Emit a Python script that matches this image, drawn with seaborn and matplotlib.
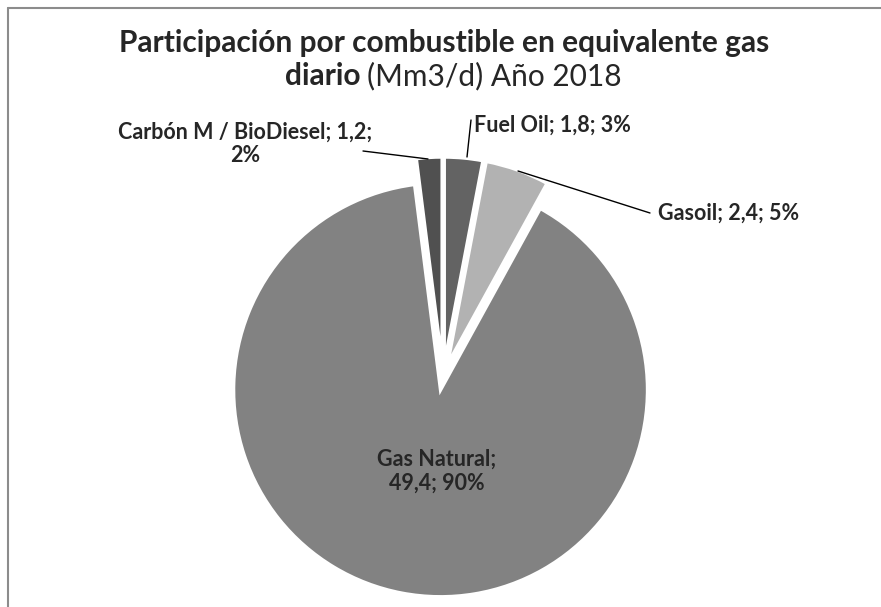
import matplotlib
matplotlib.use("Agg")
import matplotlib.pyplot as plt
import seaborn as sns
from matplotlib.lines import Line2D

# Datos (Mm3/d, año 2018) - orden horario desde las 12
combustibles = ['Fuel Oil', 'Gasoil', 'Gas Natural', 'Carbón M / BioDiesel']
valores = ['1,8', '2,4', '49,4', '1,2']
porcentajes = [3, 5, 90, 2]
colores = ['#636363', '#b2b2b2', '#828282', '#505050']
separacion = [0.063, 0.063, 0.063, 0.063]

sns.set_theme(style='white')
plt.rcParams['font.family'] = ['Lato', 'DejaVu Sans']

fig = plt.figure(figsize=(8.81, 6.07), dpi=100)

# Ejes del pastel (radio ~207 px, centro en 443, 377)
r, cx, cy = 207, 443, 377
ax = fig.add_axes([0, 0, 1, 1])
ax.pie(porcentajes, colors=colores, startangle=90, counterclock=False,
       explode=separacion, wedgeprops={'edgecolor': 'white', 'linewidth': 2.5})
ax.set_aspect('auto')
ax.set_xlim(-cx / r, (881 - cx) / r)
ax.set_ylim(-(607 - cy) / r, cy / r)
ax.axis('off')

# Capa en pixeles para textos y lineas guia
capa = fig.add_axes([0, 0, 1, 1], facecolor='none')
capa.set_xlim(0, 881)
capa.set_ylim(607, 0)
capa.axis('off')

etiquetas = ['{}; {}; {}%'.format(c, v, p) for c, v, p in zip(combustibles, valores, porcentajes)]
fs = 15.5

capa.text(474, 125, etiquetas[0], fontsize=fs, fontweight='bold', ha='left', va='center')
capa.text(658, 213, etiquetas[1], fontsize=fs, fontweight='bold', ha='left', va='center')
capa.text(437, 471, '{};\n{}; {}%'.format(combustibles[2], valores[2], porcentajes[2]),
          fontsize=fs, fontweight='bold', ha='center', va='center', linespacing=1.15)
capa.text(245, 144, '{}; {};\n{}%'.format(combustibles[3], valores[3], porcentajes[3]),
          fontsize=fs, fontweight='bold', ha='center', va='center', linespacing=1.15)

capa.plot([471, 467], [120, 157], color='black', lw=1)
capa.plot([518, 650], [171, 213], color='black', lw=1)
capa.plot([363, 428], [151, 159], color='black', lw=1)

# Titulo
capa.text(444, 43, 'Participación por combustible en equivalente gas',
          fontsize=21.5, fontweight='bold', ha='center', va='center')
capa.text(360, 76, 'diario', fontsize=21.5, fontweight='bold', ha='right', va='center')
capa.text(367, 76, '(Mm3/d) Año 2018', fontsize=21.5, ha='left', va='center')

# Borde del grafico
fig.add_artist(Line2D([8 / 881, 1], [1 - 8 / 607, 1 - 8 / 607], color='#8c8c8c', lw=1.5))
fig.add_artist(Line2D([8 / 881, 8 / 881], [0, 1 - 8 / 607], color='#8c8c8c', lw=1.5))

fig.savefig('out.png', dpi=100)
